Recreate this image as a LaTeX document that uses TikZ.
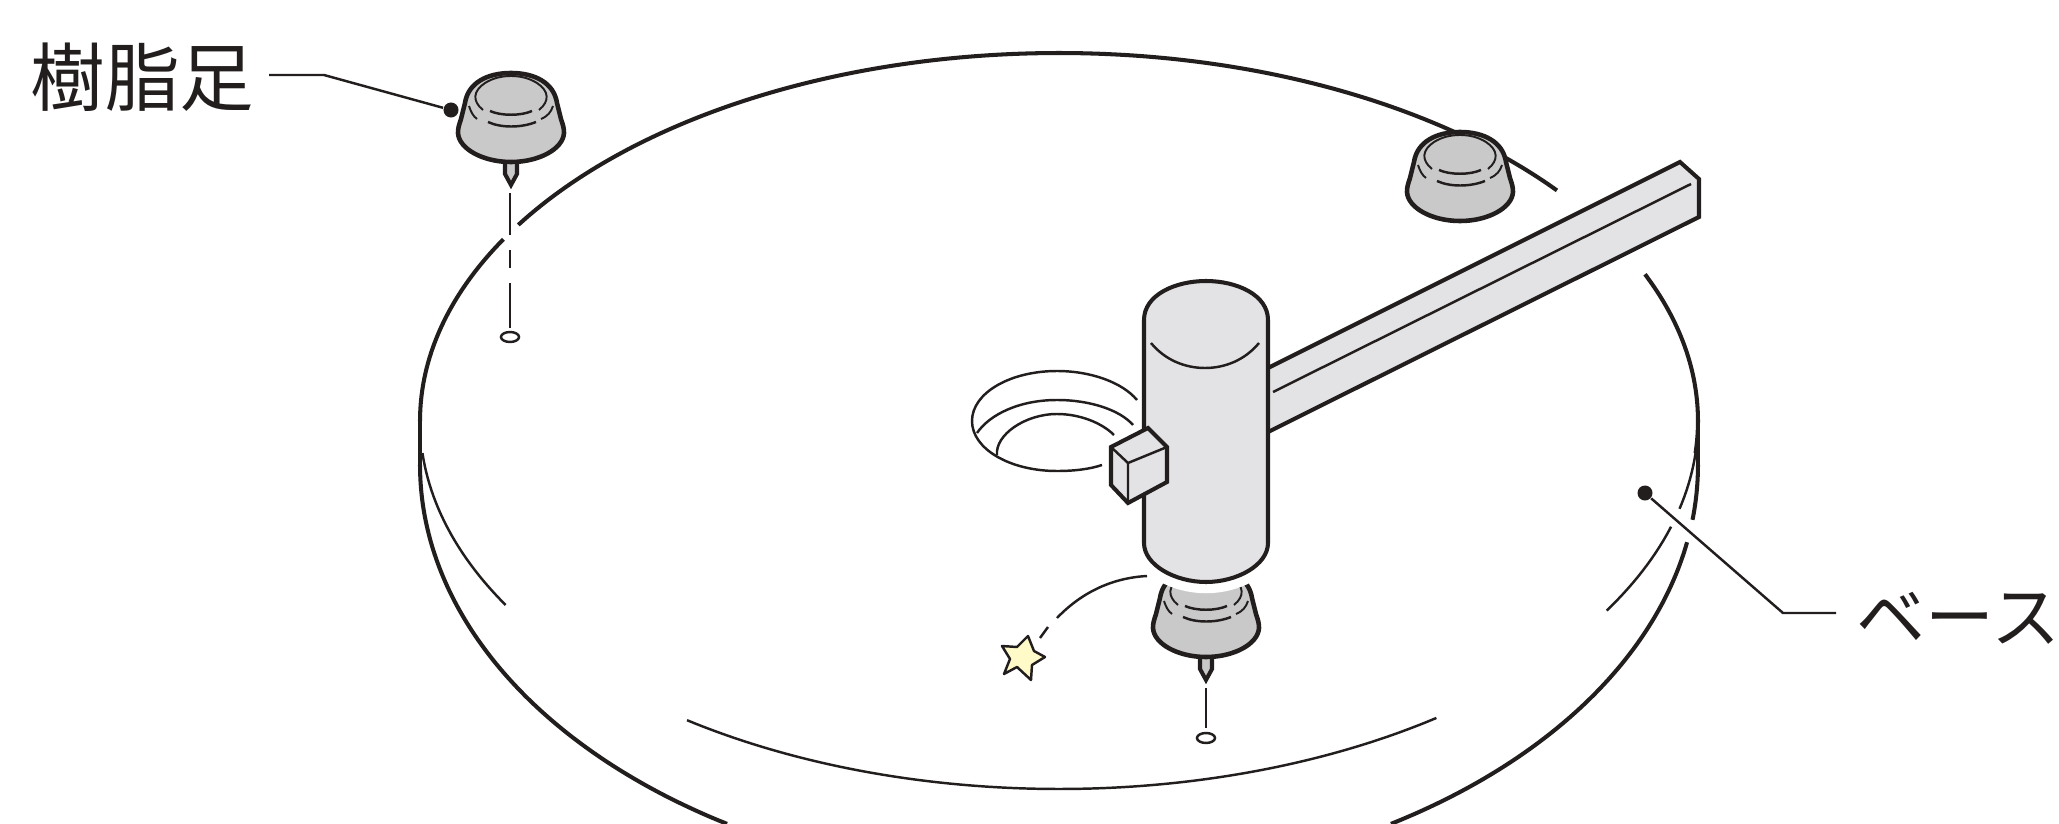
\documentclass[tikz,border=0pt]{standalone}
\usepackage{fontspec}
\newfontfamily\cjk{Noto Sans CJK JP}
\definecolor{inkblack}{RGB}{35,30,30}
\definecolor{footgray}{RGB}{201,201,201}
\definecolor{bodygray}{RGB}{227,227,229}
\definecolor{staryellow}{RGB}{255,250,200}
\tikzset{
    thickline/.style={draw=inkblack, line width=1.15pt},
    footline/.style={draw=inkblack, line width=1.3pt},
    thinline/.style={draw=inkblack, line width=0.7pt},
    hairline/.style={draw=inkblack, line width=0.55pt},
    partlabel/.style={font=\cjk\fontsize{21.2pt}{21.2pt}\selectfont, text=inkblack, inner ysep=0pt, inner xsep=0.2cm},
    baselabeltext/.style={font=\cjk\fontsize{19.6pt}{19.6pt}\selectfont, text=inkblack, inner ysep=0pt, inner xsep=0.2cm},
    leader/.style={draw=inkblack, line width=0.7pt},
    leaderdot/.style={circle, fill=inkblack, inner sep=0pt, minimum size=0.15cm}
}
\newcommand{\toparc}[3]{\draw[#1] plot[domain=#2:#3, samples=70, smooth] ({1059+639*cos(\x)},{421+368*sin(\x)});}
\newcommand{\lowarc}[3]{\draw[#1] plot[domain=#2:#3, samples=70, smooth] ({1059+639*cos(\x)},{465+420*sin(\x)});}
\newcommand{\resinfoot}[2]{
    \begin{scope}[shift={(#1,#2)}]
        \draw[footline, fill=footgray] (0,0) .. controls (-24,0) and (-43,10) .. (-46,30)
            -- (-50,46) .. controls (-52,52) and (-53,55) .. (-53,60) .. controls (-52,76) and (-28,89) .. (0,89)
            .. controls (28,89) and (52,76) .. (53,60) .. controls (53,55) and (52,52) .. (50,46)
            -- (46,30) .. controls (43,10) and (24,0) .. (0,0) -- cycle;
        \draw[hairline] (-28,37) .. controls (-39,28) and (-38,18) .. (-26,10) .. controls (-18,5) and (-9,3) .. (0,3)
            .. controls (9,3) and (18,5) .. (26,10) .. controls (38,18) and (39,28) .. (28,37);
        \draw[thinline] (-21,38) .. controls (-10,43) and (10,43) .. (21,38);
        \draw[thinline] (-23,49) .. controls (-10,55) and (10,55) .. (25,49);
        \draw[hairline] (-42,33) .. controls (-40,39) and (-38,43) .. (-34,46);
        \draw[hairline] (42,33) .. controls (40,39) and (37,43) .. (30,46);
    \end{scope}
}
\begin{document}
\begin{tikzpicture}[x=0.01cm, y=-0.01cm]
    \useasboundingbox (0,0) rectangle (2059,824);
    \clip (0,0) rectangle (2059,824);

    % Base plate, top edge
    \toparc{thickline}{180}{209.6}
    \toparc{thickline}{212.2}{321.2}
    \toparc{thickline}{336.5}{365}
    \toparc{thinline}{5}{13.8}
    \toparc{thinline}{16.7}{31}
    \toparc{thinline}{53.8}{125.6}
    \toparc{thinline}{150}{175}

    % Base plate, outer edge
    \draw[thickline] (420,421) -- (420,465);
    \draw[thickline] (1698,421) -- (1698,465);
    \lowarc{thickline}{0}{7.5}
    \lowarc{thickline}{10.6}{58.7}
    \lowarc{thickline}{121.3}{180}

    % Hole
    \draw[thinline] (1102,465) .. controls (1090,469) and (1075,471) .. (1057,471)
        .. controls (1010,471) and (972,449) .. (972,421)
        .. controls (972,393) and (1010,371) .. (1057,371)
        .. controls (1090,371) and (1122,382) .. (1137,400);
    \draw[thinline] (977,433) .. controls (990,414) and (1020,400) .. (1057,400) .. controls (1090,400) and (1120,410) .. (1133,425);
    \draw[thinline] (997,455) .. controls (995,435) and (1025,414) .. (1057,414) .. controls (1080,414) and (1102,423) .. (1114,435);

    % Resin feet
    \draw[thickline, fill=footgray] (505,160) -- (505,174) -- (511,185) -- (517,174) -- (517,160) -- cycle;
    \resinfoot{511}{73}
    \resinfoot{1460}{132}
    \draw[thickline, fill=footgray] (1200,655) -- (1200,669) -- (1206,680) -- (1212,669) -- (1212,655) -- cycle;
    \resinfoot{1206}{568}

    % Foot guide lines
    \draw[thinline] (510,193) -- (510,235) (510,250) -- (510,268) (510,283) -- (510,328);
    \draw[thinline, fill=white] (510,337) ellipse (9 and 5);
    \draw[thinline] (1206,688) -- (1206,728);
    \draw[thinline, fill=white] (1206,738) ellipse (9 and 5);

    % White gap under the column
    \draw[white, line width=6.4pt] (1268,543) .. controls (1268,565) and (1237,582) .. (1206,582)
        .. controls (1175,582) and (1144,565) .. (1144,543);

    % Arm
    \draw[thickline, fill=bodygray] (1260,372) -- (1680,162) -- (1699,179) -- (1699,217) -- (1260,436) -- cycle;
    \draw[thinline] (1273,392) -- (1691,184);

    % Column
    \draw[thickline, fill=bodygray] (1144,320) .. controls (1144,295) and (1175,281) .. (1206,281)
        .. controls (1237,281) and (1268,295) .. (1268,320) -- (1268,543)
        .. controls (1268,565) and (1237,582) .. (1206,582)
        .. controls (1175,582) and (1144,565) .. (1144,543) -- cycle;
    \draw[thinline] (1151,343) .. controls (1165,360) and (1185,368) .. (1205,368) .. controls (1225,368) and (1245,360) .. (1259,343);

    % Small block
    \draw[thickline, fill=bodygray] (1111,447) -- (1148,428) -- (1167,447) -- (1167,482) -- (1128,503) -- (1111,485) -- cycle;
    \draw[thinline] (1111,447) -- (1128,463) -- (1167,447) (1128,463) -- (1128,503);

    % Star and its path
    \draw[thinline] (1147,576) .. controls (1110,578) and (1080,594) .. (1057,618);
    \draw[thinline] (1048,627) -- (1040,638);
    \draw[thinline, fill=staryellow, line join=round] (1028,636) -- (1034,651) -- (1045,657) -- (1032,665) -- (1031,680) -- (1017,667) -- (1004,674) -- (1010,659) -- (1002,646) -- (1017,647) -- cycle;

    % Labels
    \node[partlabel, anchor=east] (footlabel) at (275,77) {樹脂足};
    \node[leaderdot] (footdot) at (451,110) {};
    \coordinate (footbend) at (324,75);
    \coordinate (footend) at (269,75);
    \draw[leader] (footend) -- (footbend) -- (footdot);

    \node[baselabeltext, anchor=west] (baselabel) at (1836,618) {ベース};
    \node[leaderdot] (basedot) at (1645,493) {};
    \coordinate (basebend) at (1783,613);
    \draw[leader] (basedot) -- (basebend) -- (baselabel.west |- basebend);
\end{tikzpicture}
\end{document}
